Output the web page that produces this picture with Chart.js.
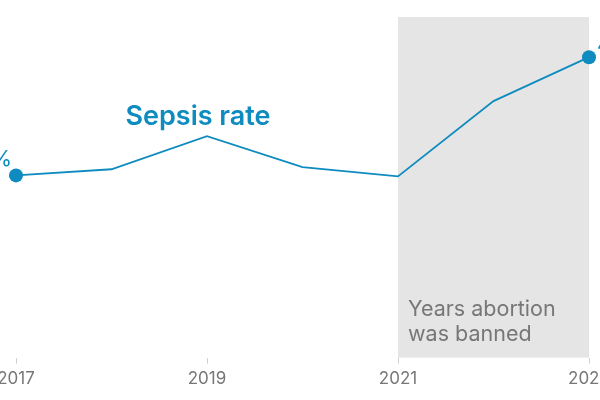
<!DOCTYPE html>
<html>
<head>
<meta charset="utf-8">
<script src="https://cdn.jsdelivr.net/npm/chart.js@4.4.0/dist/chart.umd.min.js"></script>
<style>
  html, body { margin: 0; padding: 0; background: #fff; }
  #wrap { width: 600px; height: 400px; }
</style>
</head>
<body>
<div id="wrap"><canvas id="c"></canvas></div>
<script>
  // ── Data ────────────────────────────────────────────────────────────────
  const YEARS        = [2017, 2018, 2019, 2020, 2021, 2022, 2023];
  const SEPSIS_RATE  = [53.5, 55.3, 65.0, 55.9, 53.2, 75.3, 88.2]; // index
  const TICK_YEARS   = [2017, 2019, 2021, 2023];
  const BAN_START    = 2021;
  const BAN_END      = 2023;
  const START_LABEL  = '%';
  const END_LABEL    = '4';

  const BLUE = '#0e8bbf';
  const GREY = '#777777';
  const FONT = 'Inter, "Noto Sans", sans-serif';

  // shaded "ban" band + annotations
  const bandPlugin = {
    id: 'band',
    beforeDatasetsDraw(chart) {
      const { ctx, chartArea, scales } = chart;
      const x0 = scales.x.getPixelForValue(BAN_START);
      const x1 = scales.x.getPixelForValue(BAN_END);
      ctx.save();
      ctx.fillStyle = '#e5e5e5';
      ctx.fillRect(x0, chartArea.top, x1 - x0, chartArea.bottom - chartArea.top);
      ctx.fillStyle = GREY;
      ctx.font = '21.5px ' + FONT;
      ctx.textAlign = 'left';
      ctx.textBaseline = 'alphabetic';
      ctx.fillText('Years abortion', x0 + 10, chartArea.bottom - 42);
      ctx.fillText('was banned', x0 + 10, chartArea.bottom - 17);
      ctx.restore();
    },
    afterDatasetsDraw(chart) {
      const { ctx, scales } = chart;
      const xs = scales.x, ys = scales.y;
      ctx.save();
      ctx.fillStyle = BLUE;
      ctx.font = '600 27px ' + FONT;
      ctx.textAlign = 'center';
      ctx.textBaseline = 'alphabetic';
      ctx.fillText('Sepsis rate', xs.getPixelForValue(2019) - 9, ys.getPixelForValue(SEPSIS_RATE[2]) - 11);

      ctx.font = '22px ' + FONT;
      ctx.textAlign = 'right';
      ctx.fillText(START_LABEL, xs.getPixelForValue(YEARS[0]) - 4, ys.getPixelForValue(SEPSIS_RATE[0]) - 9);
      ctx.textAlign = 'left';
      ctx.fillText(END_LABEL, xs.getPixelForValue(YEARS[6]) + 8, ys.getPixelForValue(SEPSIS_RATE[6]) - 5);
      ctx.restore();
    }
  };

  new Chart(document.getElementById('c'), {
    type: 'line',
    data: {
      labels: YEARS,
      datasets: [{
        data: YEARS.map((y, i) => ({ x: y, y: SEPSIS_RATE[i] })),
        borderColor: BLUE,
        backgroundColor: BLUE,
        borderWidth: 1.8,
        pointRadius: YEARS.map((_, i) => (i === 0 || i === YEARS.length - 1) ? 7 : 0),
        pointHoverRadius: 0,
        pointBorderWidth: 0,
        tension: 0,
        clip: false,
      }],
    },
    options: {
      responsive: true,
      maintainAspectRatio: false,
      animation: false,
      events: [],
      layout: { padding: { left: 16, right: 11, top: 17, bottom: 6 } },
      plugins: { legend: { display: false }, tooltip: { enabled: false } },
      scales: {
        x: {
          type: 'linear',
          min: 2017,
          max: 2023,
          afterBuildTicks(axis) { axis.ticks = TICK_YEARS.map(v => ({ value: v })); },
          afterFit(axis) { axis.paddingLeft = 0; axis.paddingRight = 0; }, // let edge labels run off the canvas
          ticks: {
            color: GREY,
            font: { family: FONT, size: 17 },
            padding: 5,
            maxRotation: 0,
            callback: v => String(v),
          },
          grid: { drawOnChartArea: false, tickLength: 6, color: '#d0d0d0', lineWidth: 1 },
          border: { display: false },
        },
        y: { display: false, min: 0, max: 100 },
      },
    },
    plugins: [bandPlugin],
  });
</script>
</body>
</html>
